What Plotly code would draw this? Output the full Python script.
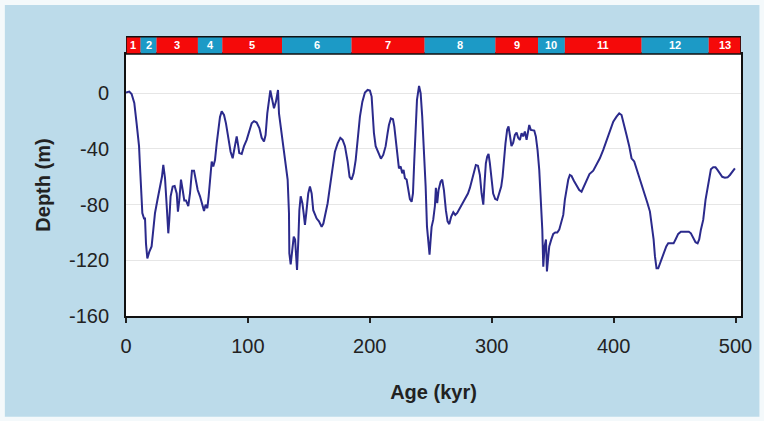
import plotly.graph_objects as go

# Sea-level (depth) reconstruction over the last 500 kyr
age_kyr = [
    0, 2.7, 4.6, 6.8, 8.7, 10.7, 11.5, 12.3, 13.4, 14.8, 15.6, 16.4, 17.5, 19.1, 21, 22.4,
    23.8, 25.7, 27.9, 29.5, 30.6, 32, 33.4, 34.7, 35.5, 36.6, 38.3, 39.9, 41.6, 42.6, 43.7,
    45.1, 46.5, 47.8, 49.2, 51.1, 52.5, 54.1, 55.8, 57.4, 58.8, 60.7, 62.1, 64, 65.3, 66.7,
    67.8, 68.9, 70.3, 71.6, 73, 74.4, 75.7, 77.1, 78.5, 80.4, 82, 83.9, 85.8, 87.5, 88.8,
    90.8, 92.1, 92.9, 94.9, 96.8, 99, 101.1, 103.1, 105, 107.2, 109.4, 111.3, 113.2, 114.5,
    115.9, 117.3, 118.4, 120, 121.4, 123, 124.7,
    125.5, 127.7, 130.4, 132.6, 133.7, 134, 135.1, 136.5, 137.6, 138.7, 139.5, 140.3, 141.4,
    142.2, 143.3, 144.7, 145.7, 146.8, 147.9, 149.5, 150.9, 152.3, 153.6, 155, 156.4, 158.3,
    160.5, 161.9, 163.2, 165.4, 167.3, 169.2, 171.4, 173.6, 175.8, 177.7, 179.6, 181.8,
    183.4, 185.1, 186.7, 188.4, 190, 191.9, 193.9, 196, 198.2, 200.1, 201.5, 202.3, 203.4,
    204.8, 206.2, 207.5, 209.1, 211, 213, 214.6, 215.7, 217.3, 219, 220.1, 221.2, 222.8,
    223.9, 225.3, 226.6, 227.7, 228.8, 230.2, 231.6, 232.9, 234.3, 235.4, 236.5, 237.6,
    238.7, 240.4, 241.7, 243, 244.4, 245.8, 246.9, 248, 249, 249.9, 250.7, 252, 253.4,
    254.2, 255.3, 256.4, 258.1, 259.4, 260.8, 262.4, 263.8, 265.2, 266.8, 268.5, 270.1,
    271.7, 273.9, 276.1, 278.3, 280.5, 282.1, 283.8, 285.4, 287, 288.7, 290.3, 291.7, 293.1,
    294.1, 295.2, 296.3, 297.4, 298.5, 299.6, 301.2, 302.9, 304.5, 306.1, 307.8, 308.9, 310,
    311.3, 312.7, 313.8, 314.9, 316.2, 317.6, 319, 320.4, 321.7, 323.1, 324.5, 325.8, 327.2,
    328.6, 329.7, 330.8, 332.1, 333.5, 334.9, 336.2, 337.6, 339, 340.4, 341.5, 342.3, 343.4,
    344.5, 345.3, 346.1, 347.2, 348.9, 350.5, 352.1, 353.8, 355.4, 357.1, 358.7, 360, 361.4,
    362.8, 364.1, 365.5, 367.4, 369.6, 371.8, 373.7, 375.6, 377.8, 380.2, 383.3, 386, 388.7,
    391.5, 394.2, 396.9, 399.7, 402.4, 404.6, 406.5, 408.4, 410.6, 412.8, 414.7, 416.9,
    418.8, 421, 423.5, 425.6, 427.8, 429.8, 431.1, 432.8, 433.9, 435.2, 436.6, 438.8, 441,
    443.2, 444.8, 447, 449.2, 450.8, 453, 455.2, 457.4, 459.8, 461.7, 463.4, 465.3, 467.2,
    468.9, 470.2, 471.6, 473.5, 475.4, 477.1, 478.4, 479.8, 481.7, 483.6, 485.2, 487.2,
    489.1, 491.3, 493.5, 495.4, 497.3, 499.5,
]
depth_m = [
    0.5, 1.2, -0.5, -7, -21.6, -38, -53, -69, -86, -90, -90, -108, -118.6, -114, -110, -98,
    -86, -77, -68, -60, -51.5, -61, -81, -100.6, -91, -74, -67, -66.6, -72, -85, -77,
    -62, -69.5, -77, -77, -81, -72, -55.6, -55.6, -62, -69.5, -74, -79, -84.5, -80, -82.6,
    -74, -62, -49, -52.6, -48, -36, -26, -17, -13, -15.6, -21.6, -32, -42, -46.7, -40.7,
    -31, -38, -43, -43.6, -38, -33.5, -27.5, -21.6, -20, -21, -25, -32, -34.7, -30,
    -14.4, -3.6, 2, -4.8, -10.8, -6, 2.4,
    -14.4, -28.7, -48, -62, -86, -115, -123, -110, -103, -105, -117, -127, -105,
    -84, -74, -79, -86, -94.6, -86, -72, -67, -72, -84, -87.4, -90, -92,
    -96, -93.6, -88.6, -79, -67, -55, -42, -36, -32, -33.5, -38, -49,
    -60, -62, -57.5, -48, -33.5, -16.8, -6, 0.5, 2.4, 1.9, -2.4, -14.4, -28.7,
    -38, -40.7, -44.3, -47, -44.3, -38, -28.7, -22.8, -18, -18.7, -24, -33.5, -48,
    -54, -52.6, -57.5, -55, -61, -62, -69.5, -76, -78, -72, -48, -24,
    -4.8, 5.3, 0, -16.8, -38, -67, -95.8, -108, -116, -105, -96, -91, -81,
    -68, -79, -69.5, -63.5, -62, -69.5, -84, -92, -94, -88.6, -85.5, -87.4,
    -86, -82.6, -79, -75.4, -72, -68, -62, -55, -51.5, -52, -58.7, -72, -80,
    -64.7, -50.3, -45.5, -43.6, -50.3, -60, -72, -76, -76.6, -72, -67, -60, -48,
    -36, -26, -23.9, -30, -38, -35.6, -30, -28.3, -32, -33.5, -28.7, -31, -27.5,
    -33.5, -26.3, -22.8, -26.3, -26.3, -26.8, -31, -40.7, -55, -79, -98, -124.6, -110,
    -105, -128, -120, -110, -105, -101, -100, -100, -98, -93, -87.4, -76.6, -69.5,
    -62, -58.7, -59.4, -62.8, -66.6, -69.5, -70.7, -66.6, -61.8, -58, -55.6, -51.5, -46.7,
    -40.7, -33.5, -26.3, -20.4, -16.8, -14.4, -15.6, -21.6, -30, -38, -46.7, -49,
    -54, -60, -67, -73, -79, -85, -93.4, -105, -117, -125.7, -125.7, -120, -115,
    -110, -107.8, -108, -107.8, -105, -101, -99.4, -99.4, -99.4, -99.4, -100.6, -104, -107,
    -107.8, -105, -98, -91, -76.6, -67, -60, -54.6, -53.2, -53.2, -55, -58,
    -60, -60.6, -60.4, -58.7, -56.5, -54,
]

# Marine isotope stages shown in the strip above the plot
stage_labels = ["1", "2", "3", "4", "5", "6", "7", "8", "9", "10", "11", "12", "13"]
stage_bounds = [0, 12, 25, 59, 79, 128, 185, 245, 303, 338, 360, 423, 478, 504.5]

x_ticks = [0, 100, 200, 300, 400, 500]
y_ticks = [0, -40, -80, -120, -160]
y_tick_text = ["0", "-40", "-80", "-120", "-160"]

BG = "#bcdbea"
RED = "#f50a0a"
BLUE = "#1c9ac6"
LINE = "#2b2a8c"
FONT = "Liberation Sans, Arial, sans-serif"
TXT = "#222222"

fig = go.Figure()
fig.add_trace(go.Scatter(
    x=age_kyr, y=depth_m, mode="lines",
    line=dict(color=LINE, width=2), showlegend=False, hoverinfo="skip",
))

shapes = []
# light-blue panel inside a thin pale border, with a white plotting area on top
shapes.append(dict(type="rect", xref="paper", yref="paper",
                   x0=-0.197, x1=1.03, y0=-0.385, y1=1.187,
                   fillcolor=BG, line=dict(width=0), layer="below"))
shapes.append(dict(type="rect", xref="paper", yref="paper",
                   x0=0, x1=1, y0=0, y1=1,
                   fillcolor="white", line=dict(width=0), layer="below"))

band_lo, band_hi = 1.0, 1.066
annotations = []
for i, lab in enumerate(stage_labels):
    x0, x1 = stage_bounds[i], stage_bounds[i + 1]
    shapes.append(dict(type="rect", xref="x", yref="paper", x0=x0, x1=x1,
                       y0=band_lo, y1=band_hi,
                       fillcolor=RED if i % 2 == 0 else BLUE,
                       line=dict(width=0), layer="above"))
    annotations.append(dict(x=(x0 + x1) / 2, y=(band_lo + band_hi) / 2,
                            xref="x", yref="paper", yanchor="middle", text=lab,
                            showarrow=False,
                            font=dict(family=FONT, size=11, color="white", weight="bold")))
shapes.append(dict(type="rect", xref="x", yref="paper",
                   x0=stage_bounds[0], x1=stage_bounds[-1], y0=band_lo, y1=band_hi,
                   line=dict(color="#111111", width=1.5), fillcolor="rgba(0,0,0,0)",
                   layer="above"))

fig.update_layout(
    width=764, height=421,
    margin=dict(l=126, r=23, t=54, b=105),
    paper_bgcolor="#f4f9fb",
    plot_bgcolor="white",
    shapes=shapes,
    annotations=annotations,
    font=dict(family=FONT, color=TXT),
    xaxis=dict(
        range=[0, 504.5], tickvals=x_ticks, ticks="outside", ticklen=5,
        tickwidth=1.5, tickcolor=TXT, showgrid=False, zeroline=False,
        showline=True, linecolor="#111111", linewidth=2, mirror=True,
        ticklabelstandoff=6,
        tickfont=dict(size=20, family=FONT, color=TXT),
        title=dict(text="Age (kyr)", standoff=29,
                   font=dict(size=20, family=FONT, color=TXT, weight="bold")),
    ),
    yaxis=dict(
        range=[-160, 28.2], tickvals=y_ticks, ticktext=y_tick_text, ticks="",
        showgrid=True, gridcolor="#e6e6e6", gridwidth=1, zeroline=False,
        showline=True, linecolor="#111111", linewidth=2, mirror=True,
        ticklabelstandoff=11,
        tickfont=dict(size=20, family=FONT, color=TXT),
        title=dict(text="Depth (m)", standoff=13,
                   font=dict(size=20, family=FONT, color=TXT, weight="bold")),
    ),
)

fig.write_html("out.html")
